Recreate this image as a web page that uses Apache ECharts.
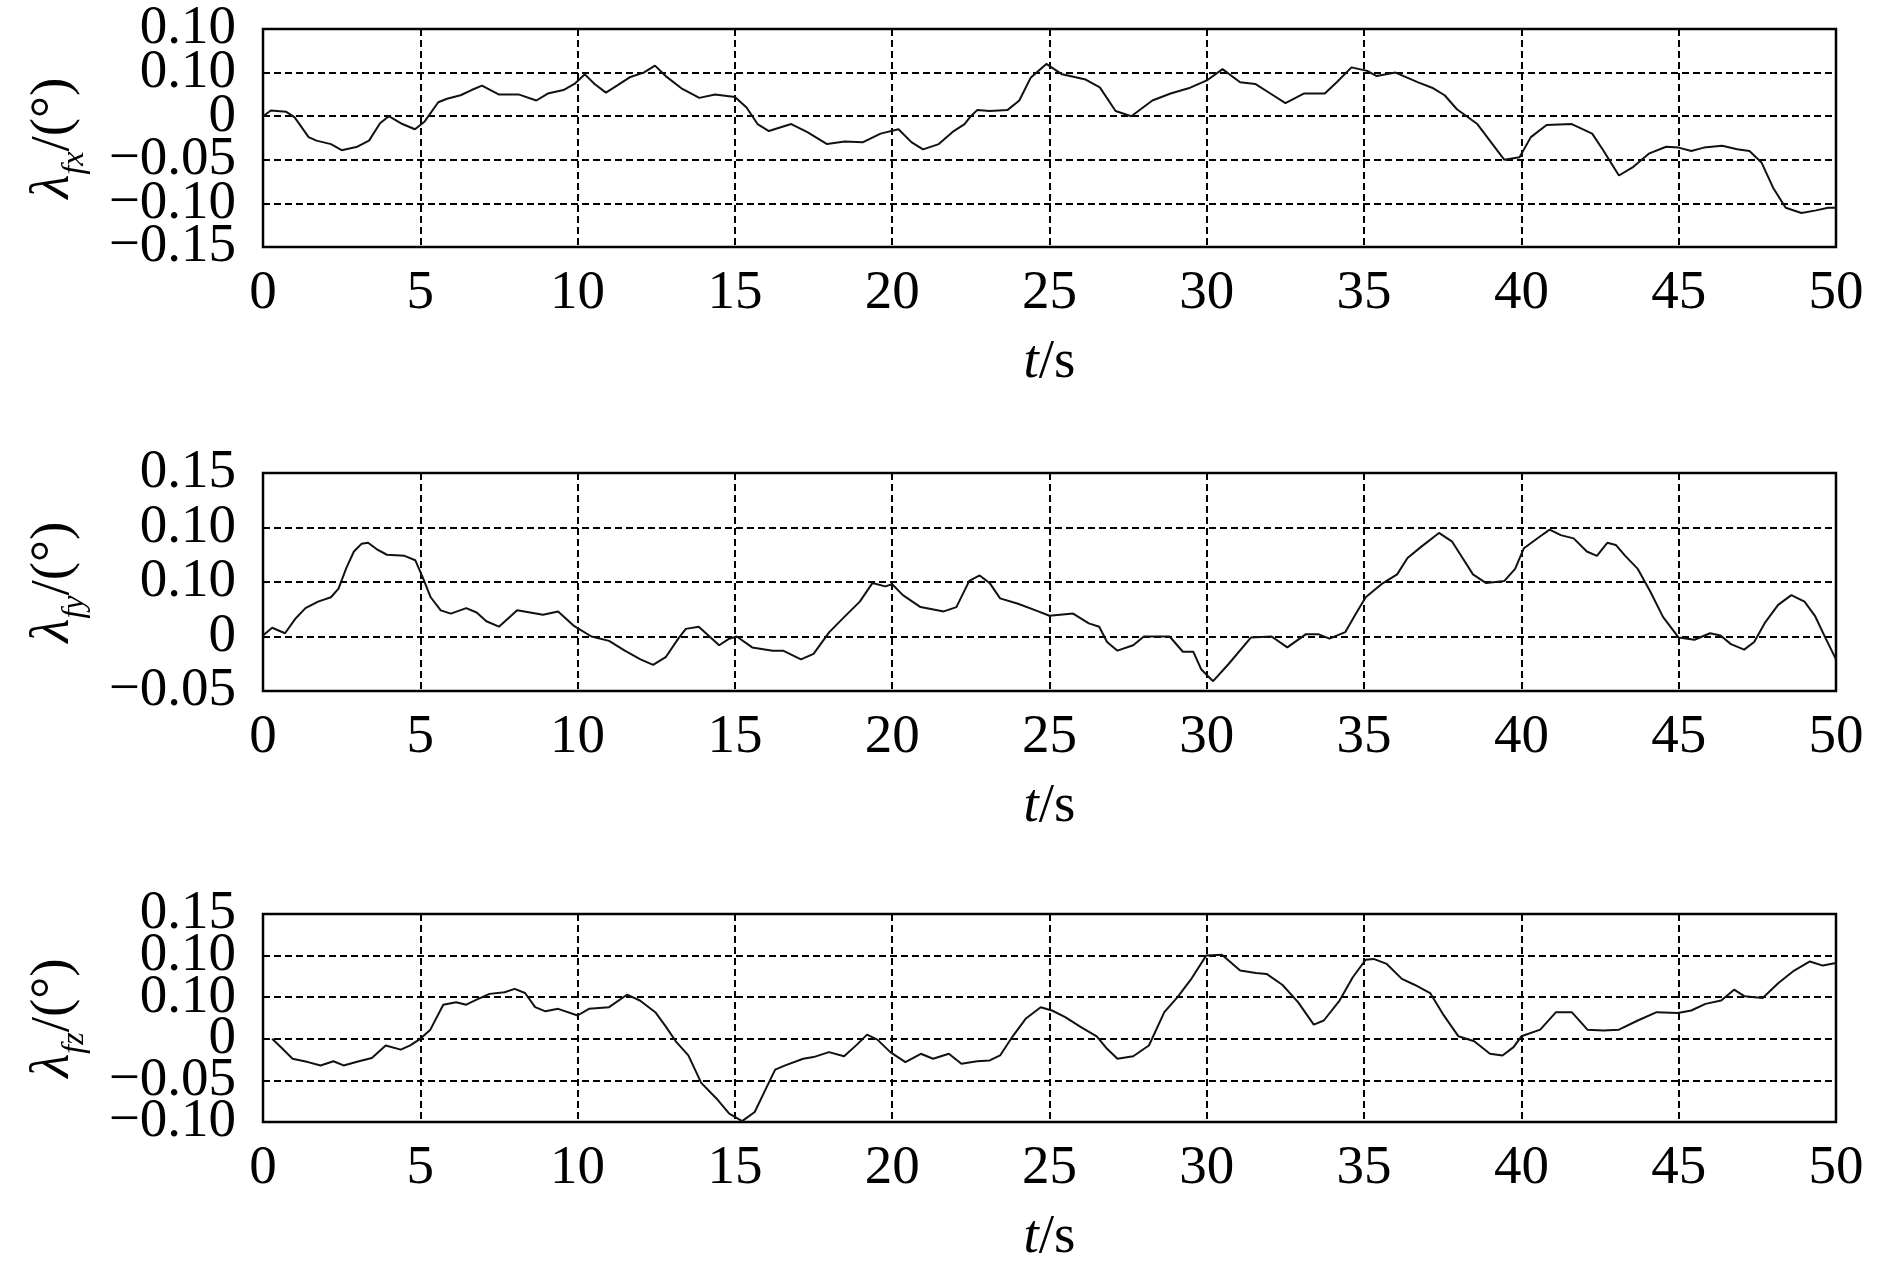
<!DOCTYPE html>
<html>
<head>
<meta charset="utf-8">
<title>lambda f</title>
<script src="https://cdn.jsdelivr.net/npm/echarts@6/dist/echarts.min.js"></script>
<style>
  html, body { margin: 0; padding: 0; background: #fff; }
  #container { width: 1890px; height: 1266px; }
</style>
</head>
<body>
<div id="container"></div>
<script>
var dom = document.getElementById("container");
var chart = echarts.init(dom);

// time ticks on every x axis
const xTicks = ["0", "5", "10", "15", "20", "25", "30", "35", "40", "45", "50"];

// y tick labels as printed, bottom to top
const fxLabels = ["−0.15", "−0.10", "−0.05", "0", "0.10", "0.10"];
const fyLabels = ["−0.05", "0", "0.10", "0.10", "0.15"];
const fzLabels = ["−0.10", "−0.05", "0", "0.10", "0.10", "0.15"];

// [t, value]
const fxData = [
    [0, 0], [0.25, 0.0065], [0.74, 0.005], [1.0, -0.001], [1.45, -0.024], [1.7, -0.028],
    [2.16, -0.032], [2.5, -0.039], [3.0, -0.035], [3.37, -0.028], [3.72, -0.008], [4.0, 0.0],
    [4.43, -0.009], [4.83, -0.015], [5.14, -0.006], [5.57, 0.016], [5.85, 0.02], [6.28, 0.024],
    [6.63, 0.03], [6.96, 0.035], [7.49, 0.025], [8.12, 0.025], [8.69, 0.018], [9.05, 0.026],
    [9.55, 0.03], [9.9, 0.037], [10.23, 0.048], [10.54, 0.037], [10.9, 0.027], [11.25, 0.035],
    [11.68, 0.045], [12.1, 0.05], [12.46, 0.058], [12.8, 0.046], [13.3, 0.032], [13.87, 0.021],
    [14.37, 0.025], [15.0, 0.022], [15.37, 0.01], [15.72, -0.009], [16.08, -0.017], [16.79, -0.009],
    [17.29, -0.018], [17.93, -0.032], [18.49, -0.029], [19.06, -0.03], [19.63, -0.02], [20.2, -0.015],
    [20.62, -0.03], [20.98, -0.038], [21.48, -0.032], [21.92, -0.018], [22.3, -0.009], [22.5, 0.0],
    [22.7, 0.007], [23.1, 0.006], [23.66, 0.007], [24.04, 0.018], [24.4, 0.044], [24.9, 0.06],
    [25.4, 0.048], [26.15, 0.042], [26.6, 0.033], [27.1, 0.006], [27.6, 0.0], [28.27, 0.018],
    [28.85, 0.026], [29.42, 0.032], [30.0, 0.041], [30.5, 0.054], [31.06, 0.039], [31.54, 0.037],
    [32.02, 0.026], [32.5, 0.015], [33.08, 0.026], [33.75, 0.026], [34.13, 0.039], [34.6, 0.056],
    [35.1, 0.052], [35.4, 0.046], [36.0, 0.05], [36.7, 0.039], [37.2, 0.032], [37.56, 0.024],
    [37.95, 0.008], [38.6, -0.009], [39.08, -0.032], [39.46, -0.05], [39.94, -0.047], [40.3, -0.024],
    [40.8, -0.01], [41.6, -0.009], [42.25, -0.02], [42.6, -0.039], [43.1, -0.068], [43.56, -0.058],
    [44.05, -0.043], [44.6, -0.035], [45.0, -0.036], [45.4, -0.04], [45.8, -0.036], [46.38, -0.034],
    [46.86, -0.038], [47.25, -0.04], [47.63, -0.053], [48.0, -0.082], [48.4, -0.105], [48.9, -0.111],
    [49.37, -0.108], [49.75, -0.105], [50, -0.105]
];

const fyData = [
    [0, 0.001], [0.29, 0.008], [0.7, 0.003], [1.02, 0.016], [1.35, 0.026], [1.75, 0.032],
    [2.16, 0.036], [2.4, 0.044], [2.65, 0.063], [2.89, 0.078], [3.13, 0.085], [3.34, 0.086],
    [3.62, 0.08], [3.94, 0.075], [4.5, 0.074], [4.84, 0.07], [5.08, 0.054], [5.33, 0.036],
    [5.65, 0.024], [5.97, 0.021], [6.46, 0.026], [6.79, 0.022], [7.1, 0.014], [7.5, 0.009],
    [8.08, 0.024], [8.9, 0.02], [9.38, 0.023], [9.87, 0.01], [10.44, 0.0], [11.0, -0.004],
    [11.5, -0.013], [12.0, -0.021], [12.4, -0.026], [12.8, -0.019], [13.2, -0.002], [13.44, 0.007],
    [13.85, 0.009], [14.5, -0.008], [14.82, -0.002], [15.06, 0.0], [15.55, -0.01], [16.2, -0.013],
    [16.53, -0.013], [17.1, -0.021], [17.5, -0.016], [18.0, 0.004], [18.48, 0.018], [18.97, 0.032],
    [19.37, 0.049], [19.78, 0.046], [20.0, 0.048], [20.34, 0.038], [20.9, 0.027], [21.64, 0.023],
    [22.04, 0.027], [22.45, 0.051], [22.78, 0.056], [23.1, 0.049], [23.43, 0.035], [24.0, 0.03],
    [24.56, 0.024], [25.0, 0.019], [25.75, 0.021], [26.25, 0.012], [26.58, 0.009], [26.83, -0.005],
    [27.16, -0.013], [27.66, -0.008], [28.0, 0.0], [28.82, 0.0], [29.24, -0.014], [29.57, -0.014],
    [29.82, -0.03], [30.2, -0.041], [30.7, -0.025], [31.4, -0.001], [32.06, 0.0], [32.56, -0.01],
    [33.14, 0.002], [33.56, 0.002], [33.9, -0.002], [34.4, 0.004], [34.7, 0.019], [35.05, 0.036],
    [35.55, 0.048], [36.05, 0.057], [36.38, 0.072], [36.8, 0.082], [37.38, 0.095], [37.8, 0.087],
    [38.13, 0.072], [38.46, 0.057], [38.88, 0.049], [39.46, 0.051], [39.8, 0.062], [40.08, 0.081],
    [40.6, 0.092], [40.9, 0.098], [41.25, 0.093], [41.66, 0.09], [42.08, 0.078], [42.4, 0.074],
    [42.73, 0.086], [43.0, 0.084], [43.3, 0.074], [43.7, 0.062], [44.1, 0.041], [44.5, 0.018],
    [45.0, -0.001], [45.5, -0.003], [46.0, 0.003], [46.33, 0.001], [46.66, -0.007], [47.08, -0.012],
    [47.4, -0.005], [47.75, 0.013], [48.16, 0.029], [48.58, 0.038], [49.0, 0.032], [49.33, 0.019],
    [49.66, -0.001], [50, -0.021]
];

const fzData = [
    [0.29, 0.0], [0.62, -0.012], [0.94, -0.024], [1.43, -0.028], [1.83, -0.032], [2.24, -0.027],
    [2.56, -0.032], [3.05, -0.027], [3.46, -0.023], [3.9, -0.008], [4.38, -0.013], [4.68, -0.008],
    [5.0, 0.0], [5.32, 0.011], [5.73, 0.041], [6.14, 0.044], [6.46, 0.041], [6.79, 0.047],
    [7.2, 0.054], [7.68, 0.056], [8.0, 0.06], [8.33, 0.055], [8.65, 0.038], [8.98, 0.033],
    [9.38, 0.036], [10.0, 0.028], [10.36, 0.036], [11.0, 0.038], [11.57, 0.053], [11.98, 0.046],
    [12.47, 0.032], [12.8, 0.015], [13.12, -0.003], [13.52, -0.02], [13.93, -0.053], [14.42, -0.072],
    [14.82, -0.09], [15.23, -0.099], [15.63, -0.088], [15.96, -0.062], [16.28, -0.037], [16.6, -0.032],
    [17.17, -0.024], [17.5, -0.022], [17.99, -0.016], [18.47, -0.021], [18.88, -0.007], [19.2, 0.005],
    [19.53, -0.001], [19.94, -0.016], [20.42, -0.028], [20.91, -0.018], [21.3, -0.024], [21.8, -0.018],
    [22.2, -0.03], [22.7, -0.027], [23.1, -0.026], [23.43, -0.02], [23.83, 0.003], [24.24, 0.024],
    [24.72, 0.038], [25.08, 0.034], [25.5, 0.026], [26.0, 0.014], [26.5, 0.003], [26.83, -0.012],
    [27.16, -0.024], [27.66, -0.021], [28.16, -0.008], [28.65, 0.032], [29.07, 0.05], [29.49, 0.071],
    [29.98, 0.1], [30.48, 0.101], [31.06, 0.082], [31.56, 0.079], [31.9, 0.078], [32.4, 0.065],
    [32.9, 0.044], [33.4, 0.017], [33.72, 0.022], [34.22, 0.046], [34.64, 0.074], [35.05, 0.095],
    [35.3, 0.096], [35.72, 0.09], [36.2, 0.072], [36.6, 0.065], [37.1, 0.055], [37.5, 0.03],
    [38.0, 0.003], [38.5, -0.003], [39.0, -0.018], [39.4, -0.02], [39.75, -0.01], [40.0, 0.003],
    [40.6, 0.011], [41.1, 0.032], [41.6, 0.032], [42.1, 0.011], [42.6, 0.01], [43.1, 0.011],
    [43.7, 0.022], [44.3, 0.032], [44.97, 0.031], [45.4, 0.034], [45.85, 0.042], [46.35, 0.046],
    [46.76, 0.059], [47.1, 0.051], [47.67, 0.049], [48.17, 0.067], [48.67, 0.082], [49.17, 0.093],
    [49.58, 0.088], [50, 0.091]
];

const serif = "'Liberation Serif', 'Times New Roman', serif";
const fs = 55;

const gridTops = [29, 473, 914];
const plotHeight = 218;

const splitStyle = {
    show: true,
    lineStyle: { color: "#000", width: 2, type: [7, 4] },
};

function makeX(i) {
    return {
        gridIndex: i,
        type: "value",
        min: 0,
        max: 50,
        interval: 5,
        axisLine: { show: false },
        axisTick: { show: false },
        axisLabel: {
            fontFamily: serif,
            fontSize: fs,
            color: "#000",
            margin: 19,
            showMinLabel: true,
            showMaxLabel: true,
            formatter: function (v) {
                return xTicks[Math.round(v / 5)];
            },
        },
        splitLine: splitStyle,
        name: "{i|t}{n|/s}",
        nameLocation: "middle",
        nameGap: 88,
        nameTextStyle: {
            rich: {
                i: { fontFamily: serif, fontSize: fs, fontStyle: "italic", color: "#000" },
                n: { fontFamily: serif, fontSize: fs, color: "#000" },
            },
        },
    };
}

// the printed labels sit so close that echarts drops neighbours of the
// end labels, so each grid gets two stacked y axes: one carries the
// even-index labels, the other the odd ones
function makeY(i, min, max, labels, sub, parity) {
    var last = labels.length - 1;
    var axis = {
        gridIndex: i,
        type: "value",
        position: "left",
        min: min,
        max: max,
        interval: 0.05,
        axisLine: { show: false },
        axisTick: { show: false },
        axisLabel: {
            fontFamily: serif,
            fontSize: fs,
            color: "#000",
            margin: 27,
            showMinLabel: parity === 0,
            showMaxLabel: last % 2 === parity,
            formatter: function (v) {
                var k = Math.round((v - min) / 0.05);
                return k % 2 === parity ? labels[k] : "";
            },
        },
        splitLine: parity === 0 ? splitStyle : { show: false },
    };
    if (parity === 0) {
        axis.name = "{l|λ}{s|" + sub + "}{n|/(°)}";
        axis.nameLocation = "middle";
        axis.nameRotate = 90;
        axis.nameGap = 172;
        axis.nameMoveOverlap = false;
        axis.nameTextStyle = {
            rich: {
                l: { fontFamily: serif, fontSize: fs, fontStyle: "italic", color: "#000", lineHeight: 75, verticalAlign: "middle" },
                s: { fontFamily: serif, fontSize: 32, fontStyle: "italic", color: "#000", lineHeight: 32, verticalAlign: "bottom" },
                n: { fontFamily: serif, fontSize: fs, color: "#000", lineHeight: 75, verticalAlign: "middle" },
            },
        };
    }
    return axis;
}

function makeLine(i, data) {
    return {
        type: "line",
        xAxisIndex: i,
        yAxisIndex: 2 * i,
        data: data,
        showSymbol: false,
        smooth: false,
        lineStyle: { color: "#111", width: 2 },
        z: 5,
    };
}

var option = {
    backgroundColor: "#fff",
    animation: false,
    grid: gridTops.map(function (t) {
        return {
            left: 263,
            right: 54,
            top: t,
            height: plotHeight,
            show: true,
            borderColor: "#000",
            borderWidth: 2.5,
            backgroundColor: "transparent",
        };
    }),
    xAxis: [makeX(0), makeX(1), makeX(2)],
    yAxis: [
        makeY(0, -0.15, 0.1, fxLabels, "fx", 0),
        makeY(0, -0.15, 0.1, fxLabels, "fx", 1),
        makeY(1, -0.05, 0.15, fyLabels, "fy", 0),
        makeY(1, -0.05, 0.15, fyLabels, "fy", 1),
        makeY(2, -0.1, 0.15, fzLabels, "fz", 0),
        makeY(2, -0.1, 0.15, fzLabels, "fz", 1),
    ],
    series: [makeLine(0, fxData), makeLine(1, fyData), makeLine(2, fzData)],
};

chart.setOption(option);
</script>
</body>
</html>
